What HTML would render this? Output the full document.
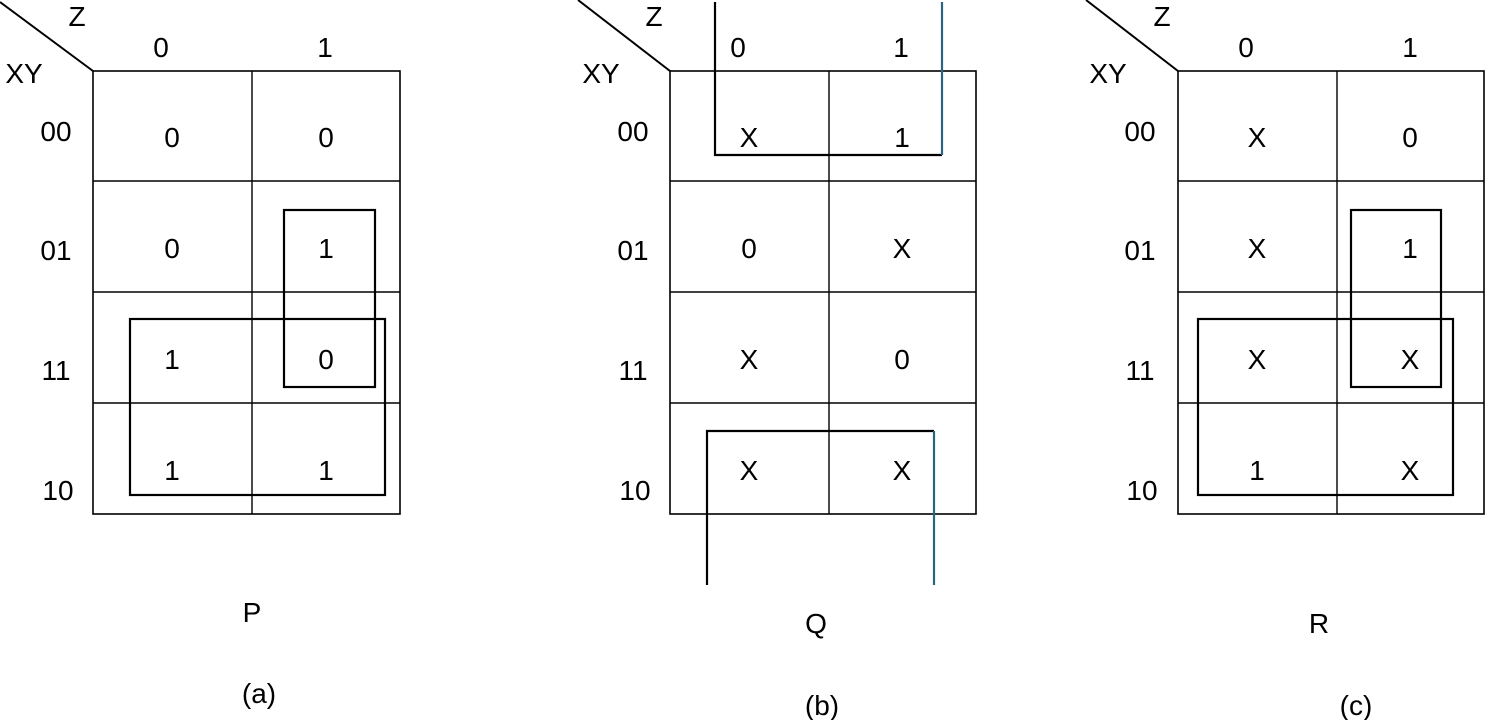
<!DOCTYPE html>
<html><head><style>
html,body{margin:0;padding:0;background:#fff;width:1486px;height:720px;overflow:hidden}
svg text{font-family:"Liberation Sans",sans-serif;font-size:28px;fill:#000;text-anchor:middle}
</style></head><body>
<svg width="1486" height="720" viewBox="0 0 1486 720" xmlns="http://www.w3.org/2000/svg">
<g stroke="#000" fill="none">
<line x1="0" y1="2" x2="93" y2="71" stroke-width="2"/>
<rect x="93" y="71" width="307" height="443" stroke-width="1.6"/>
<line x1="252" y1="71" x2="252" y2="514" stroke-width="1.4"/>
<line x1="93" y1="181" x2="400" y2="181" stroke-width="1.4"/>
<line x1="93" y1="292" x2="400" y2="292" stroke-width="1.4"/>
<line x1="93" y1="403" x2="400" y2="403" stroke-width="1.4"/>
<rect x="284" y="210" width="91" height="177" stroke-width="2.2"/>
<rect x="130" y="319" width="255" height="176" stroke-width="2.2"/>
<line x1="578" y1="0" x2="670" y2="71" stroke-width="2"/>
<rect x="670" y="71" width="306" height="443" stroke-width="1.6"/>
<line x1="829" y1="71" x2="829" y2="514" stroke-width="1.4"/>
<line x1="670" y1="181" x2="976" y2="181" stroke-width="1.4"/>
<line x1="670" y1="292" x2="976" y2="292" stroke-width="1.4"/>
<line x1="670" y1="403" x2="976" y2="403" stroke-width="1.4"/>
<polyline points="715,2 715,155 942,155" stroke-width="2.2"/>
<line x1="942" y1="2" x2="942" y2="155" stroke="#2a6384" stroke-width="2.2"/>
<polyline points="707,585 707,431 934,431" stroke-width="2.2"/>
<line x1="934" y1="431" x2="934" y2="585" stroke="#2a6384" stroke-width="2.2"/>
<line x1="1086" y1="0" x2="1178" y2="71" stroke-width="2"/>
<rect x="1178" y="71" width="306" height="443" stroke-width="1.6"/>
<line x1="1337" y1="71" x2="1337" y2="514" stroke-width="1.4"/>
<line x1="1178" y1="181" x2="1484" y2="181" stroke-width="1.4"/>
<line x1="1178" y1="292" x2="1484" y2="292" stroke-width="1.4"/>
<line x1="1178" y1="403" x2="1484" y2="403" stroke-width="1.4"/>
<rect x="1351" y="210" width="90" height="177" stroke-width="2.2"/>
<rect x="1198" y="319" width="255" height="176" stroke-width="2.2"/>
</g>
<text x="77" y="26">Z</text><text x="161" y="57">0</text><text x="325" y="57">1</text>
<text x="24" y="83">XY</text>
<text x="56" y="141">00</text><text x="56" y="260">01</text><text x="56" y="380">11</text><text x="58" y="500">10</text>
<text x="172" y="147">0</text><text x="326" y="147">0</text>
<text x="172" y="258">0</text><text x="326" y="258">1</text>
<text x="172" y="369">1</text><text x="326" y="369">0</text>
<text x="172" y="480">1</text><text x="326" y="480">1</text>
<text x="252" y="622">P</text><text x="259" y="703">(a)</text>
<text x="654" y="26">Z</text><text x="738" y="57">0</text><text x="901" y="57">1</text>
<text x="601" y="83">XY</text>
<text x="633" y="141">00</text><text x="633" y="260">01</text><text x="633" y="380">11</text><text x="635" y="500">10</text>
<text x="749" y="147">X</text><text x="902" y="147">1</text>
<text x="749" y="258">0</text><text x="902" y="258">X</text>
<text x="749" y="369">X</text><text x="902" y="369">0</text>
<text x="749" y="480">X</text><text x="902" y="480">X</text>
<text x="816" y="633">Q</text><text x="822" y="715">(b)</text>
<text x="1162" y="26">Z</text><text x="1246" y="57">0</text><text x="1410" y="57">1</text>
<text x="1108" y="83">XY</text>
<text x="1140" y="141">00</text><text x="1140" y="260">01</text><text x="1140" y="380">11</text><text x="1142" y="500">10</text>
<text x="1257" y="147">X</text><text x="1410" y="147">0</text>
<text x="1257" y="258">X</text><text x="1410" y="258">1</text>
<text x="1257" y="369">X</text><text x="1410" y="369">X</text>
<text x="1257" y="480">1</text><text x="1410" y="480">X</text>
<text x="1319" y="633">R</text><text x="1356" y="715">(c)</text>
</svg>
</body></html>
